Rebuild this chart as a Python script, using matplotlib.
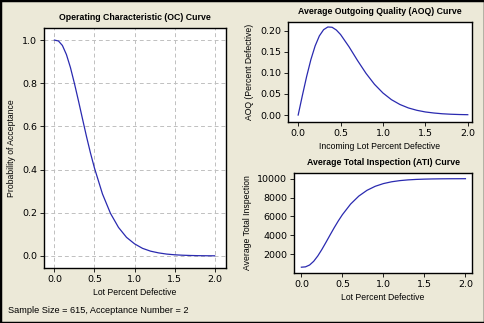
import matplotlib
matplotlib.use('Agg')
import matplotlib.pyplot as plt
from matplotlib.patches import Rectangle

# lot percent defective
pct_defective = [0, 0.05, 0.1, 0.15, 0.2, 0.25, 0.3, 0.35, 0.4, 0.45, 0.5, 0.6, 0.7,
                 0.8, 0.9, 1.0, 1.1, 1.2, 1.3, 1.4, 1.5, 1.6, 1.7, 1.8, 1.9, 2.0]
# probability of acceptance
prob_accept = [1.0, 0.996, 0.975, 0.933, 0.873, 0.799, 0.719, 0.636, 0.554, 0.477, 0.407,
               0.287, 0.197, 0.132, 0.086, 0.056, 0.035, 0.022, 0.014, 0.0085, 0.0052,
               0.0032, 0.0019, 0.0011, 0.0007, 0.0004]
# average outgoing quality (percent defective)
aoq = [0.0, 0.0467, 0.0915, 0.1314, 0.1638, 0.1876, 0.2023, 0.2087, 0.2080, 0.2015, 0.1908,
       0.1617, 0.1292, 0.0988, 0.0728, 0.0522, 0.0364, 0.0250, 0.0168, 0.0112, 0.0073,
       0.0048, 0.0030, 0.0019, 0.0012, 0.0008]
# average total inspection
ati = [615, 651, 847, 1241, 1808, 2498, 3257, 4036, 4800, 5521, 6183, 7306, 8154, 8765,
       9191, 9478, 9669, 9792, 9870, 9920, 9951, 9970, 9982, 9990, 9993, 9996]

sample_size = 615
accept_number = 2

bg = '#ece9d8'
line_col = '#2a2ab0'
lab_font = 'Liberation Sans'
plt.rcParams['font.family'] = ['DejaVu Sans']

fig = plt.figure(figsize=(4.85, 3.23), dpi=100, facecolor=bg)
fig.patches.append(Rectangle((0, 0), 1, 1, transform=fig.transFigure, fill=False,
                             edgecolor='black', linewidth=2.5))


def style(ax, title, xlabel, ylabel):
    ax.set_facecolor('white')
    for s in ax.spines.values():
        s.set_linewidth(1.0)
        s.set_color('black')
    ax.tick_params(labelsize=6.8, length=3, width=0.6, pad=2)
    ax.set_xticks([0.0, 0.5, 1.0, 1.5, 2.0])
    ax.set_xticklabels(['0.0', '0.5', '1.0', '1.5', '2.0'])
    ax.set_title(title, fontsize=6.3, fontweight='bold', family=lab_font, pad=6)
    ax.set_xlabel(xlabel, fontsize=6.2, family=lab_font, labelpad=3)
    ax.set_ylabel(ylabel, fontsize=6.2, family=lab_font, labelpad=4)


# OC curve
ax1 = fig.add_axes([0.0907, 0.1703, 0.375, 0.743])
style(ax1, 'Operating Characteristic (OC) Curve', 'Lot Percent Defective',
      'Probability of Acceptance')
ax1.plot(pct_defective, prob_accept, color=line_col, lw=0.9)
ax1.set_xlim(-0.13, 2.14)
ax1.set_ylim(-0.056, 1.056)
ax1.set_yticks([0.0, 0.2, 0.4, 0.6, 0.8, 1.0])
ax1.grid(True, linestyle=(0, (4, 3)), color='#c0c0c0', linewidth=0.7)

# AOQ curve
ax2 = fig.add_axes([0.5938, 0.6223, 0.3794, 0.3096])
style(ax2, 'Average Outgoing Quality (AOQ) Curve', 'Incoming Lot Percent Defective',
      'AOQ (Percent Defective)')
ax2.plot(pct_defective, aoq, color=line_col, lw=0.9)
ax2.set_xlim(-0.12, 2.05)
ax2.set_ylim(-0.0165, 0.2205)
ax2.set_yticks([0.0, 0.05, 0.10, 0.15, 0.20])
ax2.set_yticklabels(['0.00', '0.05', '0.10', '0.15', '0.20'])

# ATI curve
ax3 = fig.add_axes([0.6062, 0.1548, 0.367, 0.3096])
style(ax3, 'Average Total Inspection (ATI) Curve', 'Lot Percent Defective',
      'Average Total Inspection')
ax3.plot(pct_defective, ati, color=line_col, lw=0.9)
ax3.set_xlim(-0.09, 2.08)
ax3.set_ylim(0, 10600)
ax3.set_yticks([2000, 4000, 6000, 8000, 10000])

fig.text(0.017, 0.03, 'Sample Size = %d, Acceptance Number = %d' % (sample_size, accept_number),
         fontsize=6.6, family=lab_font, va='baseline')

fig.savefig('out.png', dpi=100, facecolor=bg)
